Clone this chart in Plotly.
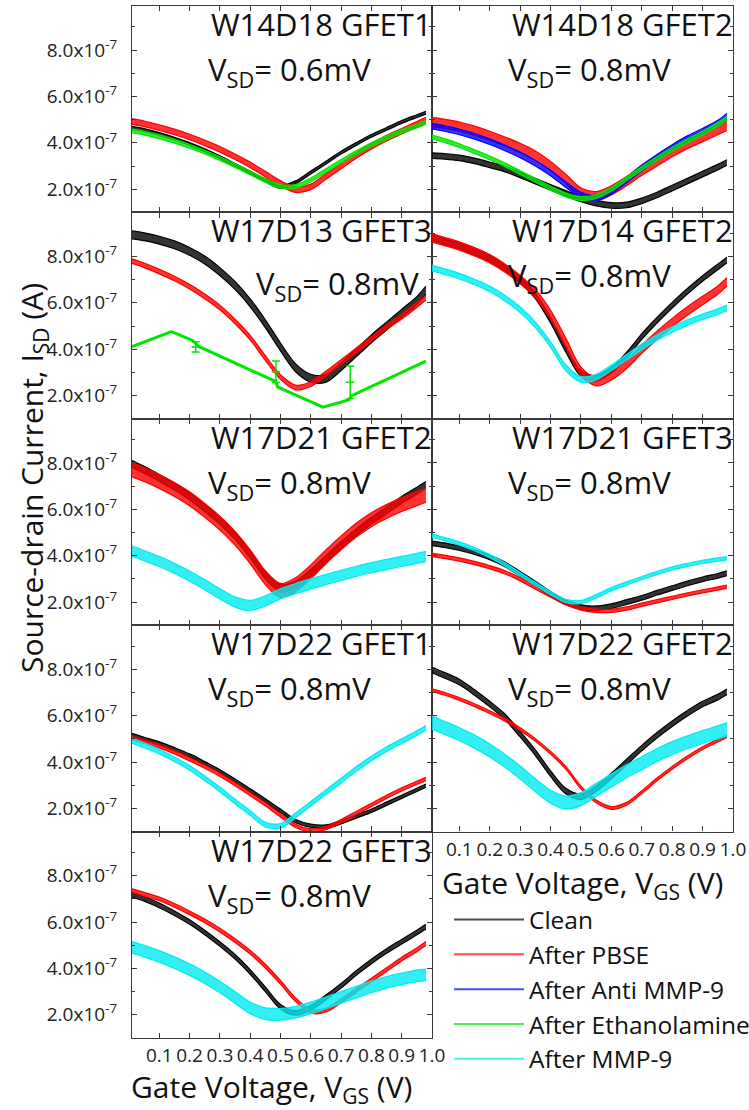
import plotly.graph_objects as go

# Currents are listed in units of 1e-7 A
UNIT = 1e-7

# Gate voltage sweep points (V)
VGS = [0.01, 0.05, 0.10, 0.15, 0.20, 0.25, 0.30, 0.35, 0.40, 0.45, 0.50,
       0.55, 0.60, 0.65, 0.70, 0.75, 0.80, 0.85, 0.90, 0.95, 0.98]

# ---- W14D18 GFET1 (V_SD = 0.6 mV)
w14d18_g1_clean = [4.65, 4.55, 4.38, 4.18, 3.95, 3.68, 3.38, 3.05, 2.72, 2.38, 2.10,
                   2.30, 2.72, 3.15, 3.58, 3.95, 4.30, 4.60, 4.90, 5.15, 5.30]
w14d18_g1_pbse = [4.92, 4.82, 4.66, 4.47, 4.25, 4.00, 3.72, 3.40, 3.05, 2.65, 2.25,
                  1.98, 2.10, 2.55, 3.00, 3.45, 3.85, 4.20, 4.50, 4.80, 4.98]
w14d18_g1_etha = [4.52, 4.42, 4.26, 4.07, 3.85, 3.60, 3.32, 3.02, 2.70, 2.38, 2.12,
                  2.12, 2.40, 2.80, 3.20, 3.58, 3.92, 4.22, 4.50, 4.72, 4.88]
w14d18_g1_spread = [0.06, 0.12, 0.08]

# ---- W14D18 GFET2 (V_SD = 0.8 mV)
w14d18_g2_clean = [3.45, 3.42, 3.35, 3.22, 3.05, 2.87, 2.62, 2.35, 2.08, 1.82, 1.58,
                   1.40, 1.30, 1.32, 1.50, 1.75, 2.05, 2.35, 2.65, 2.95, 3.15]
w14d18_g2_pbse = [4.90, 4.82, 4.70, 4.52, 4.30, 4.05, 3.78, 3.45, 3.00, 2.45, 1.85,
                  1.70, 1.95, 2.35, 2.80, 3.20, 3.60, 3.95, 4.25, 4.55, 4.73]
w14d18_g2_anti = [4.72, 4.62, 4.47, 4.28, 4.05, 3.78, 3.48, 3.12, 2.70, 2.20, 1.75,
                  1.62, 1.90, 2.40, 2.92, 3.38, 3.80, 4.18, 4.50, 4.85, 5.15]
w14d18_g2_etha = [4.25, 4.10, 3.88, 3.62, 3.35, 3.05, 2.72, 2.38, 2.05, 1.75, 1.60,
                  1.68, 2.00, 2.45, 2.90, 3.32, 3.72, 4.08, 4.42, 4.80, 5.05]
w14d18_g2_spread = [0.12, 0.20, 0.12, 0.08]

# ---- W17D13 GFET3 (V_SD = 0.8 mV)
w17d13_g3_clean = [8.93, 8.85, 8.70, 8.50, 8.22, 7.85, 7.35, 6.75, 6.00, 5.10, 4.10,
                   3.20, 2.75, 2.75, 3.25, 3.85, 4.45, 5.00, 5.55, 6.10, 6.55]
w17d13_g3_pbse = [7.80, 7.62, 7.35, 7.05, 6.70, 6.28, 5.80, 5.20, 4.50, 3.62, 2.80,
                  2.35, 2.50, 2.95, 3.45, 3.95, 4.45, 4.95, 5.40, 5.90, 6.22]
w17d13_g3_spread = [0.17, 0.10]
# Ethanolamine scan on this device was recorded at its own gate steps
w17d13_g3_etha_v = [0.01, 0.14, 0.21, 0.23, 0.485, 0.49, 0.64, 0.725, 0.735, 0.98]
w17d13_g3_etha = [4.11, 4.76, 4.38, 4.12, 2.60, 2.38, 1.50, 1.81, 2.00, 3.49]
w17d13_g3_etha_bar_v = [0.22, 0.485, 0.73]
w17d13_g3_etha_bar = [4.10, 3.03, 2.58]
w17d13_g3_etha_bar_err = [0.22, 0.46, 0.70]

# ---- W17D14 GFET2 (V_SD = 0.8 mV)
w17d14_g2_clean = [8.80, 8.65, 8.45, 8.20, 7.90, 7.50, 7.00, 6.30, 5.25, 4.00, 2.95,
                   2.75, 3.10, 3.75, 4.55, 5.25, 5.90, 6.50, 7.05, 7.55, 7.85]
w17d14_g2_pbse = [8.80, 8.65, 8.45, 8.20, 7.90, 7.50, 7.00, 6.40, 5.50, 4.30, 3.05,
                  2.60, 2.85, 3.35, 4.00, 4.60, 5.15, 5.65, 6.10, 6.55, 6.90]
w17d14_g2_mmp9 = [7.50, 7.35, 7.15, 6.90, 6.60, 6.20, 5.70, 5.05, 4.20, 3.20, 2.70,
                  2.80, 3.20, 3.65, 4.10, 4.50, 4.85, 5.15, 5.40, 5.62, 5.78]
w17d14_g2_spread = [0.12, 0.18, 0.12]

# ---- W17D21 GFET2 (V_SD = 0.8 mV)
w17d21_g2_clean = [7.95, 7.70, 7.35, 6.98, 6.55, 6.05, 5.50, 4.85, 4.05, 3.15, 2.60,
                   2.75, 3.25, 3.85, 4.45, 5.00, 5.50, 5.95, 6.40, 6.80, 7.05]
w17d21_g2_pbse = [7.70, 7.50, 7.20, 6.85, 6.45, 5.95, 5.40, 4.75, 3.95, 3.05, 2.50,
                  2.75, 3.30, 3.95, 4.55, 5.10, 5.55, 5.90, 6.20, 6.45, 6.60]
w17d21_g2_mmp9 = [4.20, 4.00, 3.75, 3.45, 3.12, 2.75, 2.35, 2.00, 1.85, 2.05, 2.35,
                  2.58, 2.78, 2.97, 3.15, 3.32, 3.48, 3.62, 3.75, 3.88, 3.96]
w17d21_g2_spread = [0.15, 0.30, 0.22]

# ---- W17D21 GFET3 (V_SD = 0.8 mV)
w17d21_g3_clean = [4.53, 4.45, 4.32, 4.15, 3.92, 3.62, 3.22, 2.80, 2.35, 1.98, 1.78,
                   1.73, 1.82, 2.00, 2.18, 2.40, 2.60, 2.80, 2.98, 3.13, 3.24]
w17d21_g3_pbse = [4.03, 3.95, 3.83, 3.68, 3.50, 3.28, 2.98, 2.62, 2.28, 1.95, 1.72,
                  1.62, 1.62, 1.72, 1.88, 2.03, 2.18, 2.33, 2.46, 2.58, 2.66]
w17d21_g3_mmp9 = [4.86, 4.72, 4.52, 4.28, 3.98, 3.62, 3.20, 2.78, 2.38, 2.05, 2.00,
                  2.25, 2.55, 2.80, 3.03, 3.25, 3.45, 3.60, 3.73, 3.83, 3.89]
w17d21_g3_spread = [0.10, 0.07, 0.07]

# ---- W17D22 GFET1 (V_SD = 0.8 mV)
w17d22_g1_clean = [5.17, 5.00, 4.80, 4.55, 4.28, 3.95, 3.60, 3.20, 2.78, 2.35, 1.90,
                   1.45, 1.25, 1.22, 1.40, 1.65, 1.90, 2.20, 2.50, 2.80, 2.98]
w17d22_g1_pbse = [5.03, 4.88, 4.68, 4.42, 4.12, 3.80, 3.45, 3.05, 2.62, 2.18, 1.70,
                  1.25, 1.05, 1.15, 1.45, 1.80, 2.15, 2.50, 2.82, 3.10, 3.27]
w17d22_g1_mmp9 = [4.92, 4.72, 4.45, 4.12, 3.75, 3.30, 2.82, 2.30, 1.80, 1.30, 1.25,
                  1.70, 2.20, 2.70, 3.20, 3.70, 4.15, 4.55, 4.90, 5.25, 5.48]
w17d22_g1_spread = [0.07, 0.07, 0.10]

# ---- W17D22 GFET2 (V_SD = 0.8 mV)
w17d22_g2_clean = [7.97, 7.75, 7.45, 7.00, 6.50, 5.95, 5.20, 4.40, 3.50, 2.75, 2.50,
                   2.85, 3.40, 4.00, 4.60, 5.15, 5.65, 6.10, 6.50, 6.80, 7.03]
w17d22_g2_pbse = [7.10, 6.95, 6.72, 6.45, 6.15, 5.82, 5.42, 4.95, 4.40, 3.75, 2.90,
                  2.30, 2.02, 2.20, 2.70, 3.25, 3.75, 4.20, 4.60, 4.92, 5.12]
w17d22_g2_mmp9 = [5.70, 5.48, 5.20, 4.88, 4.50, 4.05, 3.55, 3.00, 2.50, 2.25, 2.40,
                  2.80, 3.20, 3.60, 3.95, 4.30, 4.60, 4.85, 5.08, 5.28, 5.41]
w17d22_g2_spread = [0.12, 0.06, 0.28]

# ---- W17D22 GFET3 (V_SD = 0.8 mV)
w17d22_g3_clean = [7.17, 7.00, 6.72, 6.38, 6.00, 5.55, 5.05, 4.50, 3.85, 3.10, 2.35,
                   2.08, 2.30, 2.75, 3.25, 3.80, 4.30, 4.75, 5.15, 5.55, 5.80]
w17d22_g3_pbse = [7.35, 7.20, 7.00, 6.72, 6.40, 6.05, 5.65, 5.20, 4.70, 4.10, 3.40,
                  2.65, 2.15, 2.20, 2.60, 3.05, 3.50, 3.95, 4.40, 4.80, 5.08]
w17d22_g3_mmp9 = [4.91, 4.75, 4.52, 4.25, 3.95, 3.60, 3.20, 2.75, 2.30, 2.05, 2.02,
                  2.12, 2.30, 2.52, 2.75, 2.98, 3.20, 3.40, 3.55, 3.68, 3.72]
w17d22_g3_spread = [0.10, 0.08, 0.25]

STAGES = ["Clean", "After PBSE", "After Anti MMP-9", "After Ethanolamine", "After MMP-9"]
COLORS = {
    "Clean": (0, 0, 0),
    "After PBSE": (255, 0, 0),
    "After Anti MMP-9": (0, 0, 255),
    "After Ethanolamine": (0, 230, 0),
    "After MMP-9": (0, 235, 240),
}

Y_TICKS = [2, 4, 6, 8]
X_TICKS = [0.1, 0.2, 0.3, 0.4, 0.5, 0.6, 0.7, 0.8, 0.9, 1.0]

PANELS = [
    dict(row=1, col=1, name="W14D18 GFET1", vsd="0.6",
         curves=list(zip(["Clean", "After PBSE", "After Ethanolamine"],
                         [w14d18_g1_clean, w14d18_g1_pbse, w14d18_g1_etha], w14d18_g1_spread))),
    dict(row=1, col=2, name="W14D18 GFET2", vsd="0.8",
         curves=list(zip(["Clean", "After PBSE", "After Anti MMP-9", "After Ethanolamine"],
                         [w14d18_g2_clean, w14d18_g2_pbse, w14d18_g2_anti, w14d18_g2_etha],
                         w14d18_g2_spread))),
    dict(row=2, col=1, name="W17D13 GFET3", vsd="0.8", vsd_dx=48, vsd_dy=8,
         curves=list(zip(["Clean", "After PBSE"],
                         [w17d13_g3_clean, w17d13_g3_pbse], w17d13_g3_spread))),
    dict(row=2, col=2, name="W17D14 GFET2", vsd="0.8",
         curves=list(zip(["Clean", "After PBSE", "After MMP-9"],
                         [w17d14_g2_clean, w17d14_g2_pbse, w17d14_g2_mmp9], w17d14_g2_spread))),
    dict(row=3, col=1, name="W17D21 GFET2", vsd="0.8",
         curves=list(zip(["Clean", "After PBSE", "After MMP-9"],
                         [w17d21_g2_clean, w17d21_g2_pbse, w17d21_g2_mmp9], w17d21_g2_spread))),
    dict(row=3, col=2, name="W17D21 GFET3", vsd="0.8",
         curves=list(zip(["Clean", "After PBSE", "After MMP-9"],
                         [w17d21_g3_clean, w17d21_g3_pbse, w17d21_g3_mmp9], w17d21_g3_spread))),
    dict(row=4, col=1, name="W17D22 GFET1", vsd="0.8",
         curves=list(zip(["Clean", "After PBSE", "After MMP-9"],
                         [w17d22_g1_clean, w17d22_g1_pbse, w17d22_g1_mmp9], w17d22_g1_spread))),
    dict(row=4, col=2, name="W17D22 GFET2", vsd="0.8", xlabels=True,
         curves=list(zip(["Clean", "After PBSE", "After MMP-9"],
                         [w17d22_g2_clean, w17d22_g2_pbse, w17d22_g2_mmp9], w17d22_g2_spread))),
    dict(row=5, col=1, name="W17D22 GFET3", vsd="0.8", xlabels=True,
         curves=list(zip(["Clean", "After PBSE", "After MMP-9"],
                         [w17d22_g3_clean, w17d22_g3_pbse, w17d22_g3_mmp9], w17d22_g3_spread))),
]

# ---- page geometry (pixels)
W, H = 749, 1110
COL_X = {1: (132, 432), 2: (432, 733)}
TOP0, ROW_H = 6, 206.4
FONT = "Open Sans, Lato, sans-serif"
AXIS_COLOR = "#3a3a3a"


def rgba(rgb, a=1.0):
    return "rgba(%d,%d,%d,%.2f)" % (rgb[0], rgb[1], rgb[2], a)


def fx(p):
    return p / W


def fy(p):
    return 1 - p / H


fig = go.Figure()
layout = dict(
    width=W, height=H, autosize=False,
    margin=dict(l=0, r=0, t=0, b=0, autoexpand=False),
    paper_bgcolor="white", plot_bgcolor="white",
    font=dict(family=FONT, color="#111111"),
    showlegend=True,
)
annotations = []

for k, p in enumerate(PANELS, start=1):
    xa, ya = ("x", "y") if k == 1 else ("x%d" % k, "y%d" % k)
    x0, x1 = COL_X[p["col"]]
    top = TOP0 + (p["row"] - 1) * ROW_H
    bot = top + ROW_H

    layout["xaxis" if k == 1 else "xaxis%d" % k] = dict(
        domain=[fx(x0), fx(x1)], anchor=ya, range=[0.01, 1.0],
        tickmode="array", tickvals=X_TICKS, ticktext=["%.1f" % v for v in X_TICKS],
        ticks="inside", ticklen=5, tickcolor=AXIS_COLOR, tickangle=0,
        showline=True, linecolor=AXIS_COLOR, linewidth=1.3, mirror="ticks",
        showgrid=False, zeroline=False,
        showticklabels=bool(p.get("xlabels")),
        tickfont=dict(size=19, color="#222222"),
    )
    layout["yaxis" if k == 1 else "yaxis%d" % k] = dict(
        domain=[fy(bot), fy(top)], anchor=xa, range=[1.0 * UNIT, 9.9 * UNIT],
        tickmode="array", tickvals=[t * UNIT for t in Y_TICKS],
        ticktext=["%.1fx10<sup>-7</sup>" % t for t in Y_TICKS],
        ticks="inside", ticklen=5, tickcolor=AXIS_COLOR,
        minor=dict(tickmode="linear", tick0=UNIT, dtick=UNIT, ticks="inside",
                   ticklen=3, tickcolor=AXIS_COLOR),
        showline=True, linecolor=AXIS_COLOR, linewidth=1.3, mirror="ticks",
        showgrid=False, zeroline=False,
        showticklabels=(p["col"] == 1), ticklabelstandoff=10,
        tickfont=dict(size=19, color="#222222"),
    )

    # transfer curves drawn as bands of scan-to-scan spread
    for stage, vals, spread in p["curves"]:
        c = COLORS[stage]
        lower = [(v - spread) * UNIT for v in vals]
        upper = [(v + spread) * UNIT for v in vals]
        fig.add_trace(go.Scatter(
            x=VGS, y=lower, mode="lines", xaxis=xa, yaxis=ya,
            line=dict(color=rgba(c), width=1.2, shape="spline", smoothing=0.9),
            showlegend=False, hoverinfo="skip"))
        fig.add_trace(go.Scatter(
            x=VGS, y=upper, mode="lines", xaxis=xa, yaxis=ya, fill="tonexty",
            fillcolor=rgba(c, 0.8),
            line=dict(color=rgba(c), width=1.2, shape="spline", smoothing=0.9),
            name=stage, showlegend=False, hoverinfo="skip"))

    if p["name"] == "W17D13 GFET3":
        g = COLORS["After Ethanolamine"]
        fig.add_trace(go.Scatter(
            x=w17d13_g3_etha_v, y=[v * UNIT for v in w17d13_g3_etha],
            mode="lines", xaxis=xa, yaxis=ya,
            line=dict(color=rgba(g), width=3),
            showlegend=False, hoverinfo="skip"))
        fig.add_trace(go.Scatter(
            x=w17d13_g3_etha_bar_v, y=[v * UNIT for v in w17d13_g3_etha_bar],
            mode="markers", xaxis=xa, yaxis=ya,
            marker=dict(color=rgba(g), size=6, symbol="line-ew",
                        line=dict(color=rgba(g), width=1.5)),
            error_y=dict(type="data", array=[e * UNIT for e in w17d13_g3_etha_bar_err],
                         color=rgba(g), thickness=1.5, width=4),
            showlegend=False, hoverinfo="skip"))

    # device name and source-drain bias
    annotations.append(dict(
        xref="paper", yref="paper", x=fx(x1 + 2), y=fy(top + 18),
        xanchor="right", yanchor="middle", showarrow=False,
        text=p["name"], font=dict(size=31, family=FONT, color="#111111")))
    annotations.append(dict(
        xref="paper", yref="paper", x=fx(x0 + 74 + p.get("vsd_dx", 0)),
        y=fy(top + 65 + p.get("vsd_dy", 0)),
        xanchor="left", yanchor="middle", showarrow=False,
        text="V<sub>SD</sub>= %smV" % p["vsd"],
        font=dict(size=31, family=FONT, color="#111111")))

# legend entries
for stage in STAGES:
    fig.add_trace(go.Scatter(
        x=[None], y=[None], mode="lines", name=stage,
        line=dict(color=rgba(COLORS[stage], 0.7), width=2),
        xaxis="x", yaxis="y", showlegend=True))

layout["legend"] = dict(
    x=fx(449), y=fy(897), xanchor="left", yanchor="top",
    bgcolor="rgba(0,0,0,0)", borderwidth=0, traceorder="normal",
    font=dict(size=24.5, family=FONT, color="#111111"),
    itemwidth=70, tracegroupgap=0,
)

# axis titles
annotations.append(dict(
    xref="paper", yref="paper", x=fx(33), y=fy(478), textangle=-90,
    xanchor="center", yanchor="middle", showarrow=False,
    text="Source-drain Current, I<sub>SD</sub> (A)",
    font=dict(size=30, family=FONT, color="#111111")))
for cx, cy in [(271, 1088), (582, 884)]:
    annotations.append(dict(
        xref="paper", yref="paper", x=fx(cx), y=fy(cy),
        xanchor="center", yanchor="middle", showarrow=False,
        text="Gate Voltage, V<sub>GS</sub> (V)",
        font=dict(size=30, family=FONT, color="#111111")))

layout["annotations"] = annotations
fig.update_layout(**layout)
fig.write_html("out.html", config={"responsive": False})
